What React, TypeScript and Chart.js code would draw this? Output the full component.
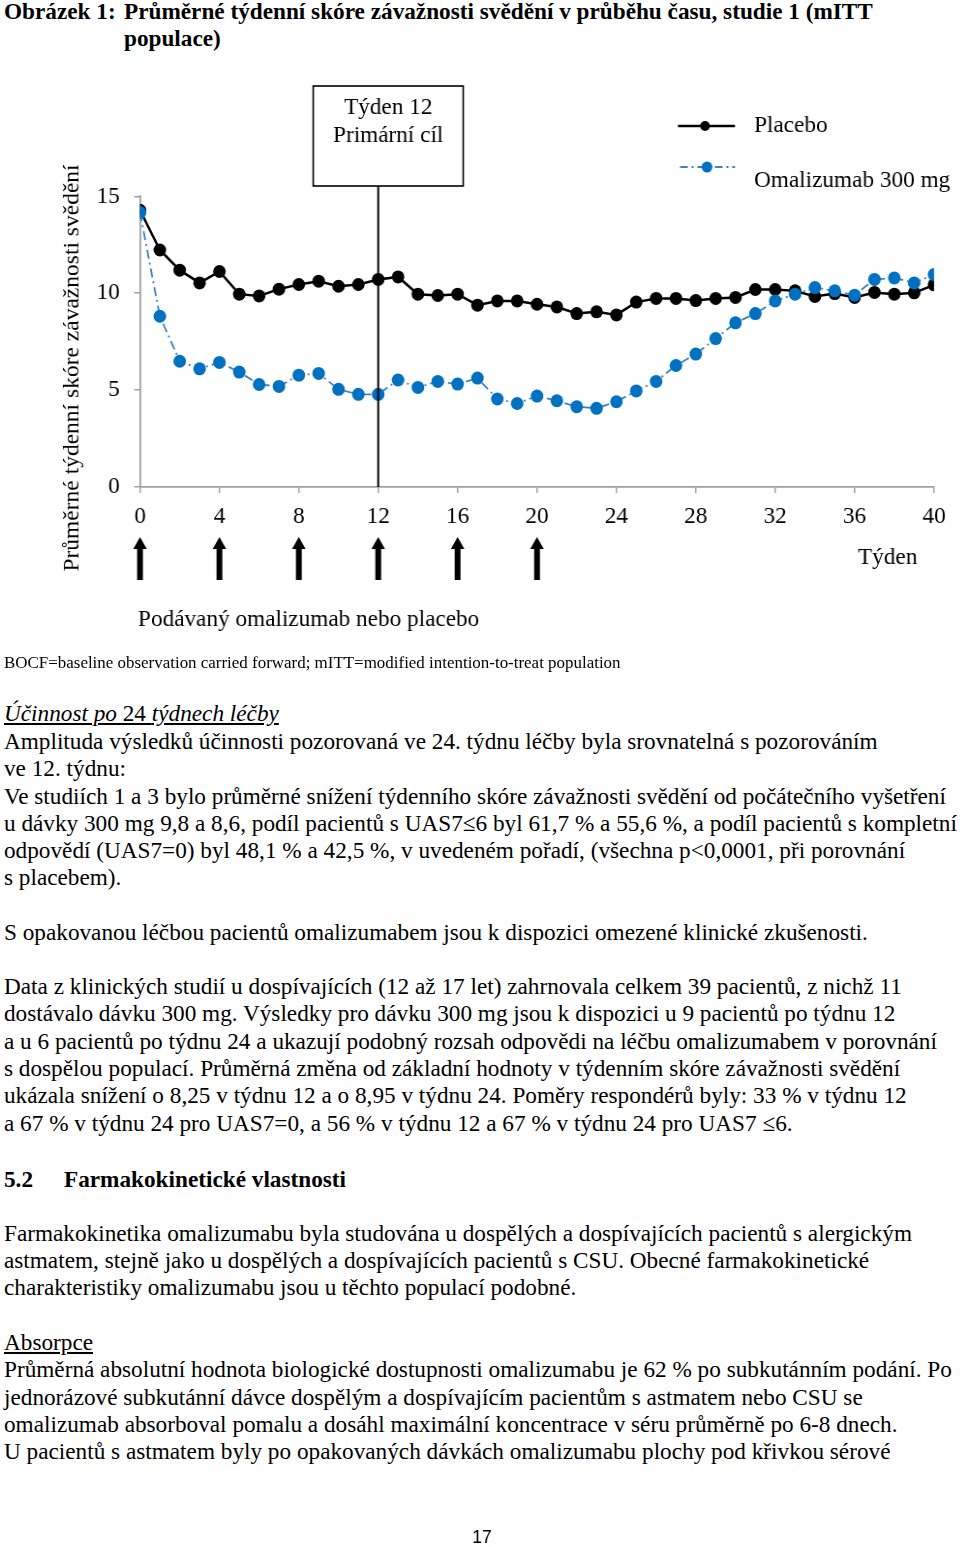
import React, { useEffect, useRef } from "react";
import { Chart, registerables } from "chart.js";

Chart.register(...registerables);

// ---------- data ----------
const weeks = [0, 1, 2, 3, 4, 5, 6, 7, 8, 9, 10, 11, 12, 13, 14, 15, 16, 17, 18, 19, 20, 21, 22, 23, 24, 25, 26, 27, 28, 29, 30, 31, 32, 33, 34, 35, 36, 37, 38, 39, 40];
const placebo = [14.28, 12.23, 11.19, 10.53, 11.12, 9.95, 9.86, 10.21, 10.45, 10.62, 10.36, 10.45, 10.71, 10.84, 9.95, 9.88, 9.95, 9.38, 9.6, 9.6, 9.43, 9.29, 8.95, 9.04, 8.88, 9.54, 9.73, 9.73, 9.62, 9.73, 9.78, 10.19, 10.19, 10.12, 9.83, 9.98, 9.78, 10.04, 9.95, 10.02, 10.43];
const omalizumab = [14.16, 8.81, 6.49, 6.1, 6.43, 5.93, 5.29, 5.19, 5.77, 5.86, 5.04, 4.78, 4.78, 5.52, 5.14, 5.45, 5.31, 5.62, 4.54, 4.31, 4.69, 4.45, 4.14, 4.06, 4.4, 4.96, 5.45, 6.27, 6.86, 7.66, 8.47, 8.95, 9.6, 9.95, 10.29, 10.12, 9.9, 10.71, 10.79, 10.53, 10.96];
const doseWeeks = [0, 4, 8, 12, 16, 20];
const primaryWeek = 12;
const seriesNames = ["Placebo", "Omalizumab 300 mg"];
const yTitle = "Průměrné týdenní skóre závažnosti svědění";
const xTitle = "Týden";
const doseLabel = "Podávaný omalizumab nebo placebo";
const boxLines = ["Týden 12", "Primární cíl"];

// ---------- layout helpers ----------
const S = 0.968; // horizontal squeeze of the page
const W = Math.round(960 / S);
const px = (x: number) => x / S;
const SERIF = "'Liberation Serif', 'Times New Roman', serif";
const CANVAS_TOP = 60;
const CANVAS_H = 590;
const FONT = 24;
const BLUE = "#0070C0";
const BLUE_LINE = "#3B82C4";

type Line = { y: number; x?: number; t: React.ReactNode; st?: React.CSSProperties };

const bodyLines: Line[] = [
  { y: 713, t: <span style={{ textDecoration: "underline" }}><i>Účinnost po</i> 24 <i>týdnech léčby</i></span> },
  { y: 741, t: "Amplituda výsledků účinnosti pozorovaná ve 24. týdnu léčby byla srovnatelná s pozorováním" },
  { y: 768, t: "ve 12. týdnu:" },
  { y: 796, t: "Ve studiích 1 a 3 bylo průměrné snížení týdenního skóre závažnosti svědění od počátečního vyšetření" },
  { y: 823, t: "u dávky 300 mg 9,8 a 8,6, podíl pacientů s UAS7≤6 byl 61,7 % a 55,6 %, a podíl pacientů s kompletní" },
  { y: 850, t: "odpovědí (UAS7=0) byl 48,1 % a 42,5 %, v uvedeném pořadí, (všechna p<0,0001, při porovnání" },
  { y: 877, t: "s placebem)." },
  { y: 932, t: "S opakovanou léčbou pacientů omalizumabem jsou k dispozici omezené klinické zkušenosti." },
  { y: 986, t: "Data z klinických studií u dospívajících (12 až 17 let) zahrnovala celkem 39 pacientů, z nichž 11" },
  { y: 1013, t: "dostávalo dávku 300 mg. Výsledky pro dávku 300 mg jsou k dispozici u 9 pacientů po týdnu 12" },
  { y: 1041, t: "a u 6 pacientů po týdnu 24 a ukazují podobný rozsah odpovědi na léčbu omalizumabem v porovnání" },
  { y: 1068, t: "s dospělou populací. Průměrná změna od základní hodnoty v týdenním skóre závažnosti svědění" },
  { y: 1095, t: "ukázala snížení o 8,25 v týdnu 12 a o 8,95 v týdnu 24. Poměry respondérů byly: 33 % v týdnu 12" },
  { y: 1123, t: "a 67 % v týdnu 24 pro UAS7=0, a 56 % v týdnu 12 a 67 % v týdnu 24 pro UAS7 ≤6." },
  { y: 1179, t: "5.2", st: { fontWeight: "bold" } },
  { y: 1179, x: 64, t: "Farmakokinetické vlastnosti", st: { fontWeight: "bold" } },
  { y: 1233, t: "Farmakokinetika omalizumabu byla studována u dospělých a dospívajících pacientů s alergickým" },
  { y: 1260, t: "astmatem, stejně jako u dospělých a dospívajících pacientů s CSU. Obecné farmakokinetické" },
  { y: 1287, t: "charakteristiky omalizumabu jsou u těchto populací podobné." },
  { y: 1342, t: <span style={{ textDecoration: "underline" }}>Absorpce</span> },
  { y: 1369, t: "Průměrná absolutní hodnota biologické dostupnosti omalizumabu je 62 % po subkutánním podání. Po" },
  { y: 1397, t: "jednorázové subkutánní dávce dospělým a dospívajícím pacientům s astmatem nebo CSU se" },
  { y: 1424, t: "omalizumab absorboval pomalu a dosáhl maximální koncentrace v séru průměrně po 6-8 dnech." },
  { y: 1451, t: "U pacientů s astmatem byly po opakovaných dávkách omalizumabu plochy pod křivkou sérové" },
];

function TextLine({ y, x = 4, t, st }: Line) {
  const lh = 28;
  return (
    <div
      style={{
        position: "absolute",
        left: px(x),
        top: y - lh / 2,
        lineHeight: lh + "px",
        height: lh,
        whiteSpace: "nowrap",
        fontFamily: SERIF,
        fontSize: 24,
        color: "#000",
        ...st,
      }}
    >
      {t}
    </div>
  );
}

const decorPlugin = {
  id: "decor",
  afterDraw(chart: any) {
    const { ctx, chartArea } = chart;
    const xs = chart.scales.x;
    ctx.save();
    ctx.fillStyle = "#000";
    ctx.strokeStyle = "#000";
    ctx.font = `${FONT}px ${SERIF}`;

    // y title
    ctx.save();
    ctx.translate(px(72), 368 - CANVAS_TOP);
    ctx.rotate(-Math.PI / 2);
    ctx.textAlign = "center";
    ctx.textBaseline = "middle";
    ctx.font = `23.5px ${SERIF}`;
    ctx.fillText(yTitle, 0, 0);
    ctx.restore();

    // primary endpoint box + line
    const lx = xs.getPixelForValue(primaryWeek);
    const bl = lx - px(65);
    const bw = px(150);
    const bt = 86 - CANVAS_TOP;
    const bb = 186 - CANVAS_TOP;
    ctx.lineWidth = 1.6;
    ctx.strokeRect(bl, bt, bw, bb - bt);
    ctx.lineWidth = 2;
    ctx.beginPath();
    ctx.moveTo(lx, bb);
    ctx.lineTo(lx, chartArea.bottom);
    ctx.stroke();
    ctx.textAlign = "center";
    ctx.textBaseline = "middle";
    ctx.fillText(boxLines[0], bl + bw / 2, 108 - CANVAS_TOP);
    ctx.fillText(boxLines[1], bl + bw / 2, 136 - CANVAS_TOP);

    // legend
    const ly1 = 126 - CANVAS_TOP;
    const ly2 = 167 - CANVAS_TOP;
    ctx.lineWidth = 2.5;
    ctx.beginPath();
    ctx.moveTo(px(678), ly1);
    ctx.lineTo(px(735), ly1);
    ctx.stroke();
    ctx.beginPath();
    ctx.arc(px(705), ly1, 5, 0, Math.PI * 2);
    ctx.fill();
    ctx.strokeStyle = BLUE_LINE;
    ctx.lineWidth = 1.8;
    ctx.setLineDash([8, 4, 2, 4]);
    ctx.beginPath();
    ctx.moveTo(px(680), ly2);
    ctx.lineTo(px(735), ly2);
    ctx.stroke();
    ctx.setLineDash([]);
    ctx.fillStyle = BLUE;
    ctx.beginPath();
    ctx.arc(px(707), ly2, 5.5, 0, Math.PI * 2);
    ctx.fill();
    ctx.fillStyle = "#000";
    ctx.textAlign = "left";
    ctx.fillText(seriesNames[0], px(754), ly1);
    ctx.fillText(seriesNames[1], px(754), 181 - CANVAS_TOP);

    // dose arrows
    const tipY = 537 - CANVAS_TOP;
    const baseY = 580 - CANVAS_TOP;
    doseWeeks.forEach((w) => {
      const ax = xs.getPixelForValue(w);
      ctx.beginPath();
      ctx.moveTo(ax, tipY);
      ctx.lineTo(ax + 7, tipY + 12);
      ctx.lineTo(ax + 3, tipY + 12);
      ctx.lineTo(ax + 3, baseY);
      ctx.lineTo(ax - 3, baseY);
      ctx.lineTo(ax - 3, tipY + 12);
      ctx.lineTo(ax - 7, tipY + 12);
      ctx.closePath();
      ctx.fill();
    });

    ctx.textAlign = "left";
    ctx.fillText(xTitle, px(858), 558 - CANVAS_TOP);
    ctx.fillText(doseLabel, px(138), 620 - CANVAS_TOP);
    ctx.restore();
  },
};

function ChartBlock() {
  const ref = useRef<HTMLCanvasElement | null>(null);
  useEffect(() => {
    if (!ref.current) return;
    const axisColor = "#a0a0a0";
    const chart = new Chart(ref.current, {
      type: "line",
      data: {
        datasets: [
          {
            label: seriesNames[0],
            data: weeks.map((w, i) => ({ x: w, y: placebo[i] })),
            borderColor: "#000",
            backgroundColor: "#000",
            pointBackgroundColor: "#000",
            pointBorderColor: "#000",
            borderWidth: 2.5,
            pointRadius: 6.5,
            pointBorderWidth: 0,
            tension: 0,
            order: 2,
          },
          {
            label: seriesNames[1],
            data: weeks.map((w, i) => ({ x: w, y: omalizumab[i] })),
            borderColor: BLUE_LINE,
            backgroundColor: BLUE,
            pointBackgroundColor: BLUE,
            pointBorderColor: BLUE,
            borderWidth: 1.8,
            borderDash: [9, 4, 2, 4],
            pointRadius: 6.5,
            pointBorderWidth: 0,
            tension: 0,
            order: 1,
          },
        ],
      },
      options: {
        animation: false,
        responsive: false,
        devicePixelRatio: 1,
        layout: {
          padding: { left: 0, right: W - px(934), top: 196.3 - CANVAS_TOP, bottom: 0 },
        },
        plugins: { legend: { display: false }, tooltip: { enabled: false } },
        scales: {
          x: {
            type: "linear",
            min: 0,
            max: 40,
            border: { color: axisColor, width: 1.8 },
            grid: { drawOnChartArea: false, color: axisColor, tickLength: 6, lineWidth: 1.5 },
            ticks: { stepSize: 4, color: "#000", font: { family: SERIF, size: FONT }, padding: 9, maxRotation: 0 },
            afterFit: (s: any) => {
              s.height = CANVAS_H - (487 - CANVAS_TOP);
            },
          },
          y: {
            min: 0,
            max: 15,
            border: { color: axisColor, width: 1.8 },
            grid: { drawOnChartArea: false, color: axisColor, tickLength: 6, lineWidth: 1.5 },
            ticks: { stepSize: 5, color: "#000", font: { family: SERIF, size: FONT }, padding: 15 },
            afterFit: (s: any) => {
              s.width = px(140);
            },
          },
        },
      } as any,
      plugins: [decorPlugin],
    });
    return () => chart.destroy();
  }, []);
  return (
    <canvas
      ref={ref}
      width={W}
      height={CANVAS_H}
      style={{ position: "absolute", left: 0, top: CANVAS_TOP, width: W, height: CANVAS_H }}
    />
  );
}

export default function App() {
  return (
    <div
      style={{
        position: "absolute",
        left: 0,
        top: 0,
        width: W,
        height: 1547,
        transform: `scaleX(${S})`,
        transformOrigin: "0 0",
        background: "#fff",
        overflow: "hidden",
      }}
    >
      <TextLine y={11} t="Obrázek 1:" st={{ fontWeight: "bold" }} />
      <TextLine y={11} x={124} t="Průměrné týdenní skóre závažnosti svědění v průběhu času, studie 1 (mITT" st={{ fontWeight: "bold" }} />
      <TextLine y={38} x={124} t="populace)" st={{ fontWeight: "bold" }} />
      <ChartBlock />
      <TextLine y={662} t="BOCF=baseline observation carried forward; mITT=modified intention-to-treat population" st={{ fontSize: 17.5 }} />
      {bodyLines.map((l, i) => (
        <TextLine key={i} {...l} />
      ))}
      <div
        style={{
          position: "absolute",
          left: px(482) - 40,
          width: 80,
          textAlign: "center",
          top: 1537 - 11,
          lineHeight: "22px",
          fontFamily: "'Liberation Sans', Arial, sans-serif",
          fontSize: 18,
        }}
      >
        17
      </div>
    </div>
  );
}
